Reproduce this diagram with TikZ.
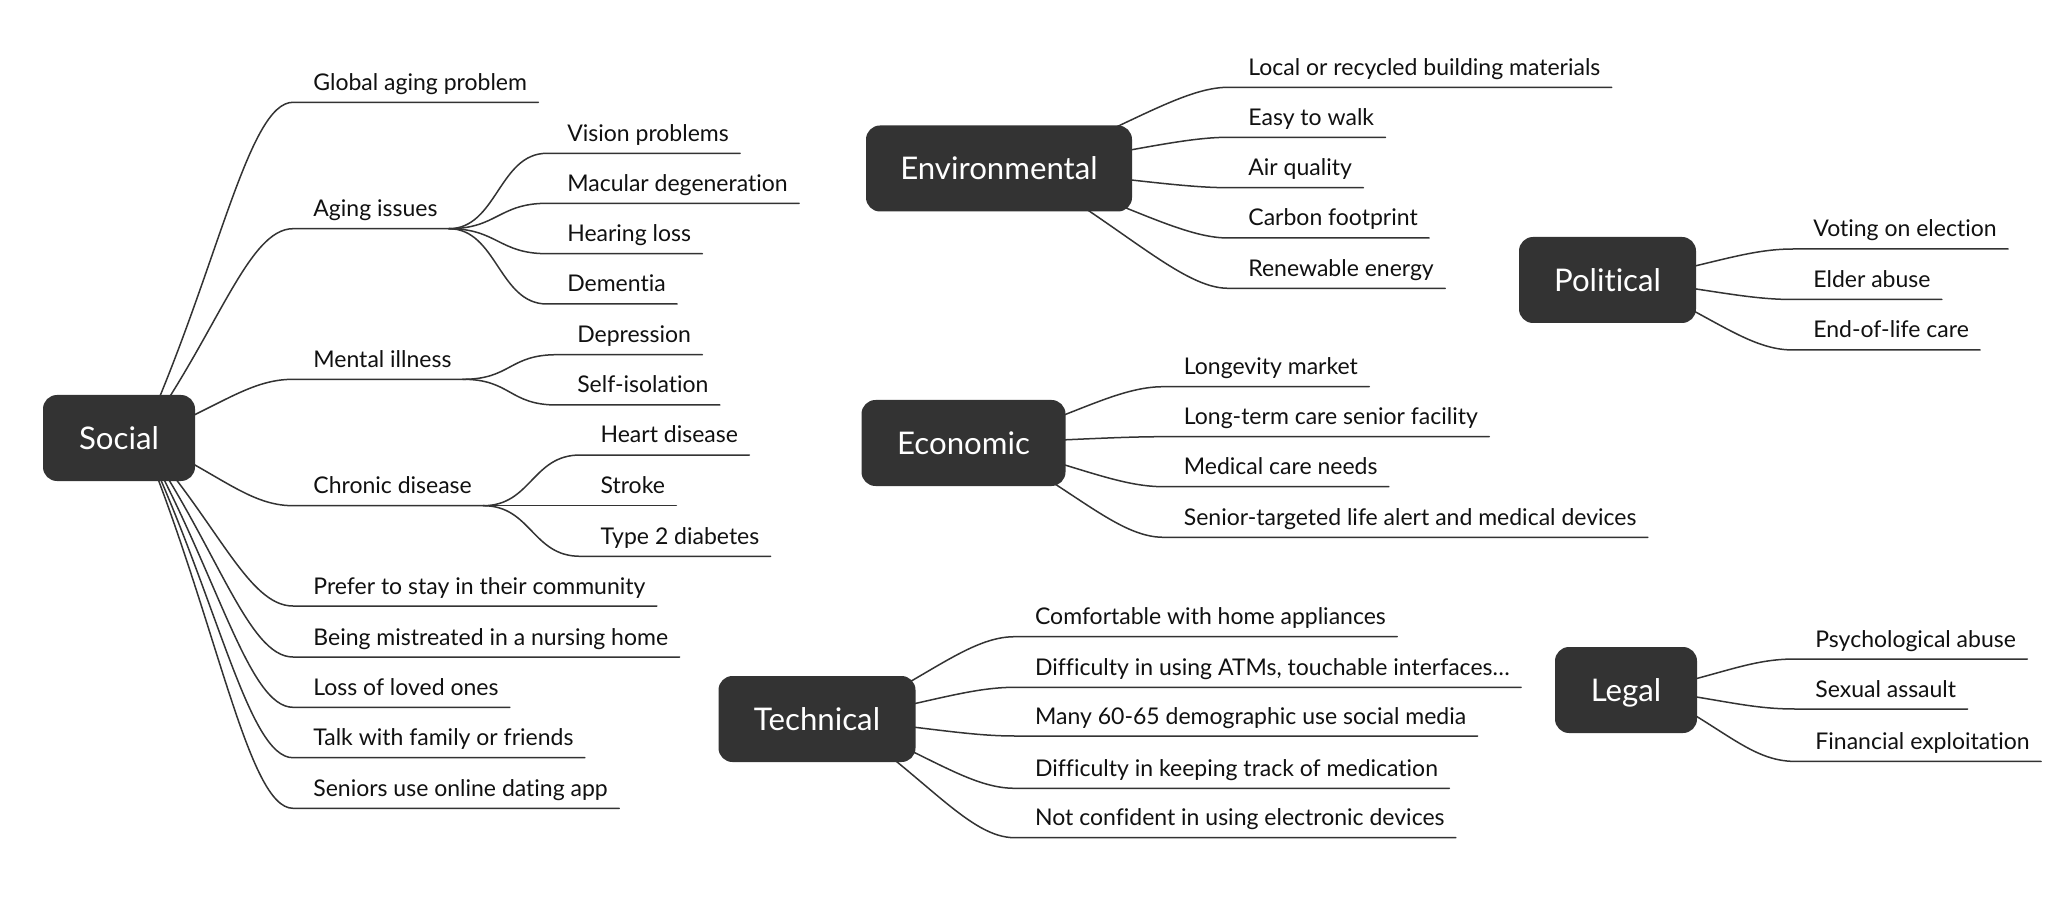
\documentclass[tikz,border=0pt]{standalone}
\usepackage{fontspec}
\setmainfont{Lato}[Ligatures={NoCommon}]
\usetikzlibrary{calc}
\definecolor{boxc}{HTML}{333333}
\definecolor{linec}{HTML}{333333}
\definecolor{txtc}{HTML}{111111}
\pgfdeclarelayer{bg}
\pgfsetlayers{bg,main}
\tikzset{
  topic/.style={fill=boxc, rounded corners=7pt, text=white, font=\fontsize{15.6}{18}\selectfont, minimum height=43pt, inner sep=0pt, text height=11.2pt, text depth=0pt},
  leaf/.style={anchor=south west, inner sep=0pt, text depth=5.8pt, text height=8.5pt, font=\fontsize{11.5}{13}\selectfont, text=txtc, execute at begin node={\hspace*{10pt}}, execute at end node={\hspace*{5.5pt}}},
  conn/.style={draw=linec, line width=0.75pt, line join=round, line cap=round},
}
\newcommand\boxlink[2]{\draw[conn] (#1) .. controls ($(#1)!0.5!(#2.south west)$) and ($(#2.south west)+(-45,0)$) .. (#2.south west) -- (#2.south east);}
\newcommand\sublink[2]{\draw[conn] (#1.south east) .. controls ($(#1.south east)+(48,0)$) and ($(#2.south west)+(-48,0)$) .. (#2.south west) -- (#2.south east);}
\begin{document}
\begin{tikzpicture}[x=0.5pt,y=-0.5pt]
\begin{pgfonlayer}{bg}
\fill[white] (0,0) rectangle (2050,898);
\end{pgfonlayer}
\useasboundingbox (0,0) rectangle (2050,898);
% topics
\node[topic, minimum width=76pt] (soc) at (119,438) {Social};
\node[topic, minimum width=133pt] (env) at (999,168.5) {Environmental};
\node[topic, minimum width=102pt] (eco) at (963.5,443) {Economic};
\node[topic, minimum width=98.5pt] (tec) at (817,719) {Technical};
\node[topic, minimum width=88.5pt] (pol) at (1607.5,280) {Political};
\node[topic, minimum width=71pt] (leg) at (1626,690) {Legal};
\coordinate (socO) at ($(soc.center)+(23,0)$);
\coordinate (envO) at ($(env.center)+(23,0)$);
\coordinate (ecoO) at ($(eco.center)+(23,0)$);
\coordinate (tecO) at ($(tec.center)+(23,0)$);
\coordinate (polO) at ($(pol.center)+(23,0)$);
\coordinate (legO) at ($(leg.center)+(23,0)$);
% social
\node[leaf] (glob) at (293,102.3) {Global aging problem};
\node[leaf] (aging) at (293,228.7) {Aging issues};
\node[leaf] (mental) at (293,379.3) {Mental illness};
\node[leaf] (chronic) at (293,505.7) {Chronic disease};
\node[leaf] (prefer) at (293,606) {Prefer to stay in their community};
\node[leaf] (mistreat) at (293,657) {Being mistreated in a nursing home};
\node[leaf] (loss) at (293,707.3) {Loss of loved ones};
\node[leaf] (talk) at (293,757.7) {Talk with family or friends};
\node[leaf] (dating) at (293,808.3) {Seniors use online dating app};
\node[leaf] (vision) at ($(aging.south east)+(98,-75.4)$) {Vision problems};
\node[leaf] (macular) at ($(aging.south east)+(98,-25.4)$) {Macular degeneration};
\node[leaf] (hearing) at ($(aging.south east)+(98,25)$) {Hearing loss};
\node[leaf] (dementia) at ($(aging.south east)+(98,75.3)$) {Dementia};
\node[leaf] (depress) at ($(mental.south east)+(94,-24.6)$) {Depression};
\node[leaf] (selfiso) at ($(mental.south east)+(94,25.7)$) {Self-isolation};
\node[leaf] (heart) at ($(chronic.south east)+(97,-50.7)$) {Heart disease};
\node[leaf] (stroke) at ($(chronic.south east)+(97,0)$) {Stroke};
\node[leaf] (diab) at ($(chronic.south east)+(97,50.6)$) {Type 2 diabetes};
% environmental
\node[leaf] (local) at (1228,87.3) {Local or recycled building materials};
\node[leaf] (walk) at (1228,137.3) {Easy to walk};
\node[leaf] (air) at (1228,187.7) {Air quality};
\node[leaf] (carbon) at (1228,238) {Carbon footprint};
\node[leaf] (renew) at (1228,288.3) {Renewable energy};
% economic
\node[leaf] (longev) at (1163.5,386.7) {Longevity market};
\node[leaf] (longterm) at (1163.5,436.7) {Long-term care senior facility};
\node[leaf] (medcare) at (1163.5,486.7) {Medical care needs};
\node[leaf] (senior) at (1163.5,537.3) {Senior-targeted life alert and medical devices};
% technical
\node[leaf] (comfort) at (1014.7,636.7) {Comfortable with home appliances};
\node[leaf] (atms) at (1014.7,687.3) {Difficulty in using ATMs, touchable interfaces…};
\node[leaf] (many) at (1014.7,736) {Many 60-65 demographic use social media};
\node[leaf] (track) at (1014.7,788.3) {Difficulty in keeping track of medication};
\node[leaf] (notconf) at (1014.7,837.7) {Not confident in using electronic devices};
% political
\node[leaf] (voting) at (1793,249) {Voting on election};
\node[leaf] (elder) at (1793,299.5) {Elder abuse};
\node[leaf] (endlife) at (1793,350) {End-of-life care};
% legal
\node[leaf] (psych) at (1795,659) {Psychological abuse};
\node[leaf] (sexual) at (1795,709) {Sexual assault};
\node[leaf] (financ) at (1795,761.4) {Financial exploitation};
\begin{pgfonlayer}{bg}
\boxlink{socO}{glob}
\boxlink{socO}{aging}
\boxlink{socO}{mental}
\boxlink{socO}{chronic}
\boxlink{socO}{prefer}
\boxlink{socO}{mistreat}
\boxlink{socO}{loss}
\boxlink{socO}{talk}
\boxlink{socO}{dating}
\sublink{aging}{vision}
\sublink{aging}{macular}
\sublink{aging}{hearing}
\sublink{aging}{dementia}
\sublink{mental}{depress}
\sublink{mental}{selfiso}
\sublink{chronic}{heart}
\sublink{chronic}{stroke}
\sublink{chronic}{diab}
\boxlink{envO}{local}
\boxlink{envO}{walk}
\boxlink{envO}{air}
\boxlink{envO}{carbon}
\boxlink{envO}{renew}
\boxlink{ecoO}{longev}
\boxlink{ecoO}{longterm}
\boxlink{ecoO}{medcare}
\boxlink{ecoO}{senior}
\boxlink{tecO}{comfort}
\boxlink{tecO}{atms}
\boxlink{tecO}{many}
\boxlink{tecO}{track}
\boxlink{tecO}{notconf}
\boxlink{polO}{voting}
\boxlink{polO}{elder}
\boxlink{polO}{endlife}
\boxlink{legO}{psych}
\boxlink{legO}{sexual}
\boxlink{legO}{financ}
\end{pgfonlayer}
\end{tikzpicture}
\end{document}
